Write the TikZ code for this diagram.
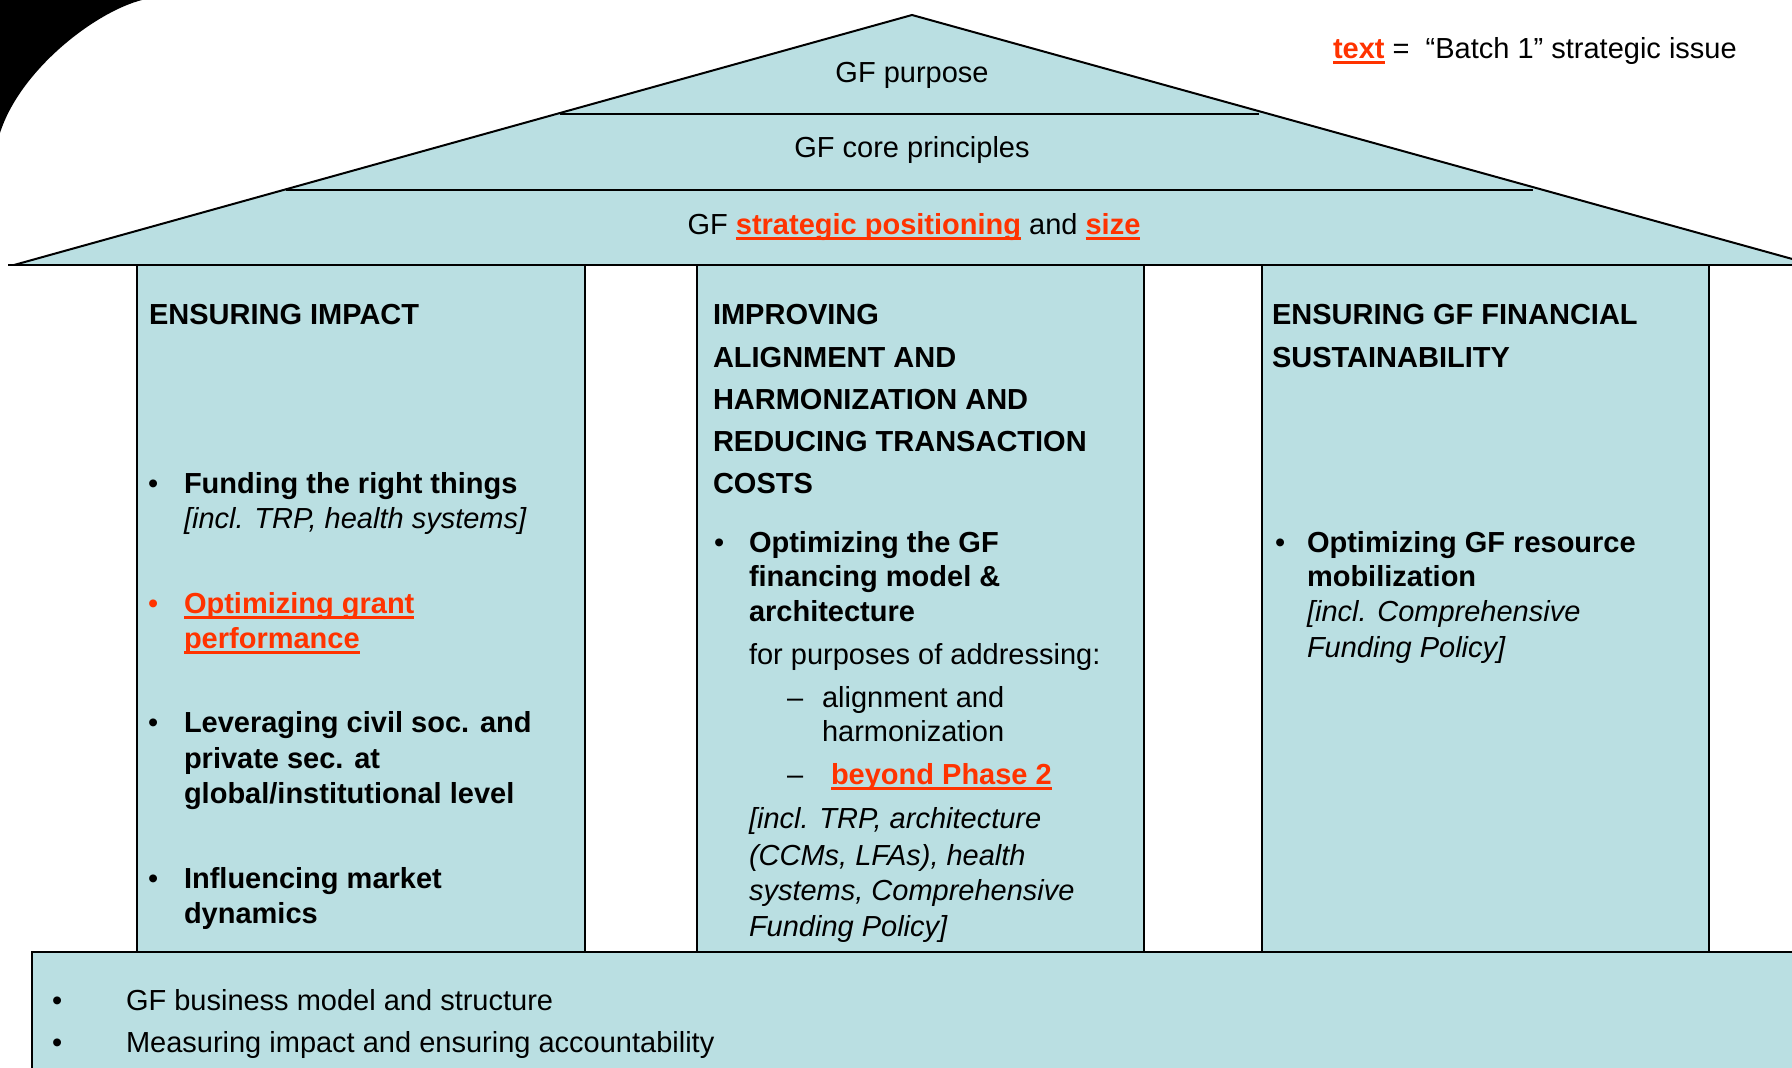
\documentclass[tikz,border=0pt]{standalone}
\usepackage{fontspec}
\setmainfont{Liberation Sans}
\definecolor{gfblue}{RGB}{186,223,226}
\definecolor{gfred}{RGB}{255,51,0}
\newcommand\redul[1]{{\color{gfred}\bfseries\setbox0\hbox{#1}\rlap{\rule[-0.2em]{\wd0}{0.1em}}\box0}}
\begin{document}
\begin{tikzpicture}[x=1pt,y=-1pt,
  txt/.style={anchor=base west, inner sep=0pt, outer sep=0pt, font=\fontsize{29}{35}\selectfont},
  bold/.style={txt, font=\fontsize{29}{35}\selectfont\bfseries},
  ital/.style={txt, font=\fontsize{29}{35}\selectfont\itshape},
  ctr/.style={anchor=base, inner sep=0pt, outer sep=0pt, font=\fontsize{29}{35}\selectfont},
  pillar/.style={fill=gfblue, draw=black, line width=2pt},
  edgeline/.style={line width=2pt, draw=black}]
\useasboundingbox (0,0) rectangle (1792,1068);
\clip (0,0) rectangle (1792,1068);

% black slide corner
\fill[black] (0,0) -- (142,0) .. controls (95,12) and (20,70) .. (0,133) -- cycle;

% pillars
\draw[pillar] (137,265) rectangle (585,952);
\draw[pillar] (697,265) rectangle (1144,952);
\draw[pillar] (1262,265) rectangle (1709,952);

% base
\fill[gfblue] (32,952) rectangle (1800,1080);
\coordinate (bBL) at (32,1080);
\coordinate (bTL) at (32,952);
\coordinate (bTR) at (1800,952);
\draw[edgeline, line width=2.5pt] (bBL) -- (bTL) -- (bTR);

% roof
\coordinate (apex) at (912,15);
\coordinate (eaveL) at (14,265);
\coordinate (eaveR) at (1814,265);
\coordinate (baseL) at (8,265);
\coordinate (baseR) at (1800,265);
\coordinate (d1L) at (560,114);
\coordinate (d1R) at (1259,114);
\coordinate (d2L) at (286,190);
\coordinate (d2R) at (1533,190);
\fill[gfblue] (eaveL) -- (apex) -- (eaveR) -- cycle;
\draw[edgeline] (eaveL) -- (apex) -- (eaveR);
\draw[edgeline] (baseL) -- (baseR);
\draw[edgeline] (d1L) -- (d1R);
\draw[edgeline] (d2L) -- (d2R);

% roof texts
\node[ctr] (purpose) at (912,82) {GF purpose};
\node[ctr] (core) at (912,157) {GF core principles};
\node[ctr] (strat) at (914,234) {GF \redul{strategic positioning} and \redul{size}};
\node[txt] (legend) at (1333,58) {\redul{text} =\ \ “Batch 1” strategic issue};

% column 1
\node[bold] (c1t) at (149,324) {ENSURING IMPACT};
\node[txt] (c1b1) at (148,493) {•};
\node[bold] (c1a) at (184,493) {Funding the right things};
\node[ital] (c1a2) at (184,528) {[incl. TRP, health systems]};
\node[txt, text=gfred] (c1b2) at (148,613) {•};
\node[txt] (c1c) at (184,613) {\redul{Optimizing grant}};
\node[txt] (c1c2) at (184,648) {\redul{performance}};
\node[txt] (c1b3) at (148,732) {•};
\node[bold] (c1d) at (184,732) {Leveraging civil soc. and};
\node[bold] (c1d2) at (184,768) {private sec. at};
\node[bold] (c1d3) at (184,803) {global/institutional level};
\node[txt] (c1b4) at (148,888) {•};
\node[bold] (c1e) at (184,888) {Influencing market};
\node[bold] (c1e2) at (184,923) {dynamics};

% column 2
\node[bold] (c2t1) at (713,324) {IMPROVING};
\node[bold] (c2t2) at (713,367) {ALIGNMENT AND};
\node[bold] (c2t3) at (713,409) {HARMONIZATION AND};
\node[bold] (c2t4) at (713,451) {REDUCING TRANSACTION};
\node[bold] (c2t5) at (713,493) {COSTS};
\node[txt] (c2b1) at (714,552) {•};
\node[bold] (c2a) at (749,552) {Optimizing the GF};
\node[bold] (c2a2) at (749,586) {financing model \&};
\node[bold] (c2a3) at (749,621) {architecture};
\node[txt] (c2p) at (749,664) {for purposes of addressing:};
\node[txt] (c2d1) at (787,707) {–};
\node[txt] (c2s1) at (822,707) {alignment and};
\node[txt] (c2s1b) at (822,741) {harmonization};
\node[txt] (c2d2) at (787,784) {–};
\node[txt] (c2s2) at (831,784) {\redul{beyond Phase 2}};
\node[ital] (c2i1) at (749,828) {[incl. TRP, architecture};
\node[ital] (c2i2) at (749,865) {(CCMs, LFAs), health};
\node[ital] (c2i3) at (749,900) {systems, Comprehensive};
\node[ital] (c2i4) at (749,936) {Funding Policy]};

% column 3
\node[bold] (c3t1) at (1272,324) {ENSURING GF FINANCIAL};
\node[bold] (c3t2) at (1272,367) {SUSTAINABILITY};
\node[txt] (c3b1) at (1275,552) {•};
\node[bold] (c3a) at (1307,552) {Optimizing GF resource};
\node[bold] (c3a2) at (1307,586) {mobilization};
\node[ital] (c3a3) at (1307,621) {[incl. Comprehensive};
\node[ital] (c3a4) at (1307,657) {Funding Policy]};

% base texts
\node[txt] (bb1) at (52,1010) {•};
\node[txt] (ba1) at (126,1010) {GF business model and structure};
\node[txt] (bb2) at (52,1052) {•};
\node[txt] (ba2) at (126,1052) {Measuring impact and ensuring accountability};
\end{tikzpicture}
\end{document}
